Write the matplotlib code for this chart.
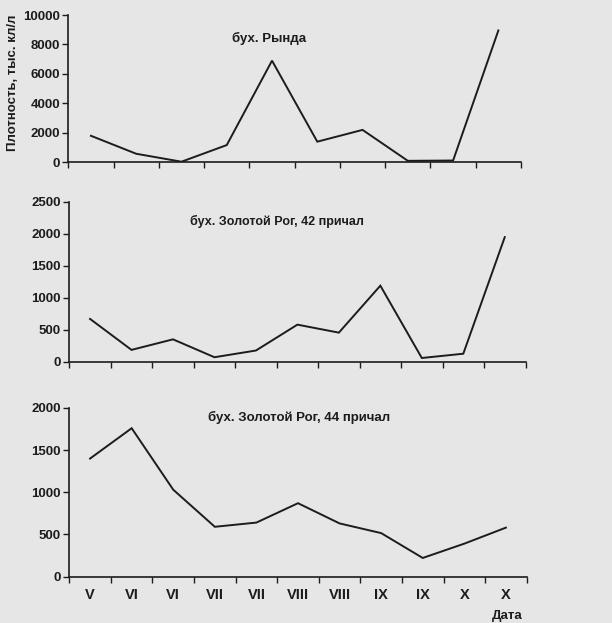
import matplotlib.pyplot as plt

# ── Data ─────────────────────────────────────────────────────────────────────
RYNDA = [1800, 580, 40, 1170, 6900, 1400, 2200, 100, 120, 8950]
ZR42 = [670, 185, 350, 70, 175, 580, 455, 1190, 58, 125, 1950]
ZR44 = [1400, 1760, 1030, 590, 640, 870, 630, 515, 220, 390, 580]
MONTHS = ['V', 'VI', 'VI', 'VII', 'VII', 'VIII', 'VIII', 'IX', 'IX', 'X', 'X']

TITLES = ['бух. Рында', 'бух. Золотой Рог, 42 причал', 'бух. Золотой Рог, 44 причал']
YLIMS = [10000, 2500, 2000]
YSTEPS = [2000, 500, 500]

BG = '#e6e6e6'
INK = '#1c1c1c'
W, H = 612, 623

plt.rcParams['font.family'] = ['Liberation Sans', 'DejaVu Sans']
plt.rcParams['font.weight'] = 'bold'

fig = plt.figure(figsize=(W / 100, H / 100), dpi=100, facecolor=BG)


def box(left, right, top, bottom):
    # pixel box -> figure fraction
    return [left / W, 1 - bottom / H, (right - left) / W, (bottom - top) / H]


boxes = [box(68.3, 521, 15, 162.3),
         box(69.3, 525.5, 202, 361.7),
         box(69.3, 526.7, 408, 576.5)]
title_pos = [(269, 38), (277, 221), (299, 417)]
title_size = [9.5, 9.0, 9.5]

for i, (data, title) in enumerate(zip([RYNDA, ZR42, ZR44], TITLES)):
    ax = fig.add_axes(boxes[i])
    ax.set_facecolor('none')
    n = len(data)
    x = [k + 0.5 for k in range(n)]
    ax.plot(x, data, color=INK, lw=1.4, solid_joinstyle='miter')
    ax.set_xlim(0, n)
    ax.set_ylim(0, YLIMS[i])
    ax.set_yticks(range(0, YLIMS[i] + 1, YSTEPS[i]))
    ax.set_xticks(range(0, n + 1))
    ax.tick_params(axis='x', direction='out', length=4, width=1, color=INK,
                   labelbottom=False)
    ax.tick_params(axis='y', direction='out', length=4, width=1, color=INK,
                   labelsize=9.5, pad=2, labelcolor=INK)
    for lbl in ax.get_yticklabels():
        lbl.set_fontweight('bold')
    for s in ['top', 'right']:
        ax.spines[s].set_visible(False)
    for s in ['left', 'bottom']:
        ax.spines[s].set_color(INK)
        ax.spines[s].set_linewidth(1.2)
    fig.text(title_pos[i][0] / W, 1 - title_pos[i][1] / H, title,
             ha='center', va='center', fontsize=title_size[i],
             fontweight='bold', color=INK)
    if i == 2:
        for k, m in enumerate(MONTHS):
            ax.text(k + 0.5, -0.11, m, transform=ax.get_xaxis_transform(),
                    ha='center', va='center', fontsize=10.5, fontweight='bold',
                    color=INK)

fig.text(13 / W, 1 - 83 / H, 'Плотность, тыс. кл/л', rotation=90,
         ha='center', va='center', fontsize=9.5, fontweight='bold', color=INK)
fig.text(507 / W, 1 - 616 / H, 'Дата', ha='center', va='center',
         fontsize=9.5, fontweight='bold', color=INK)

fig.savefig('out.png', dpi=100, facecolor=BG)
